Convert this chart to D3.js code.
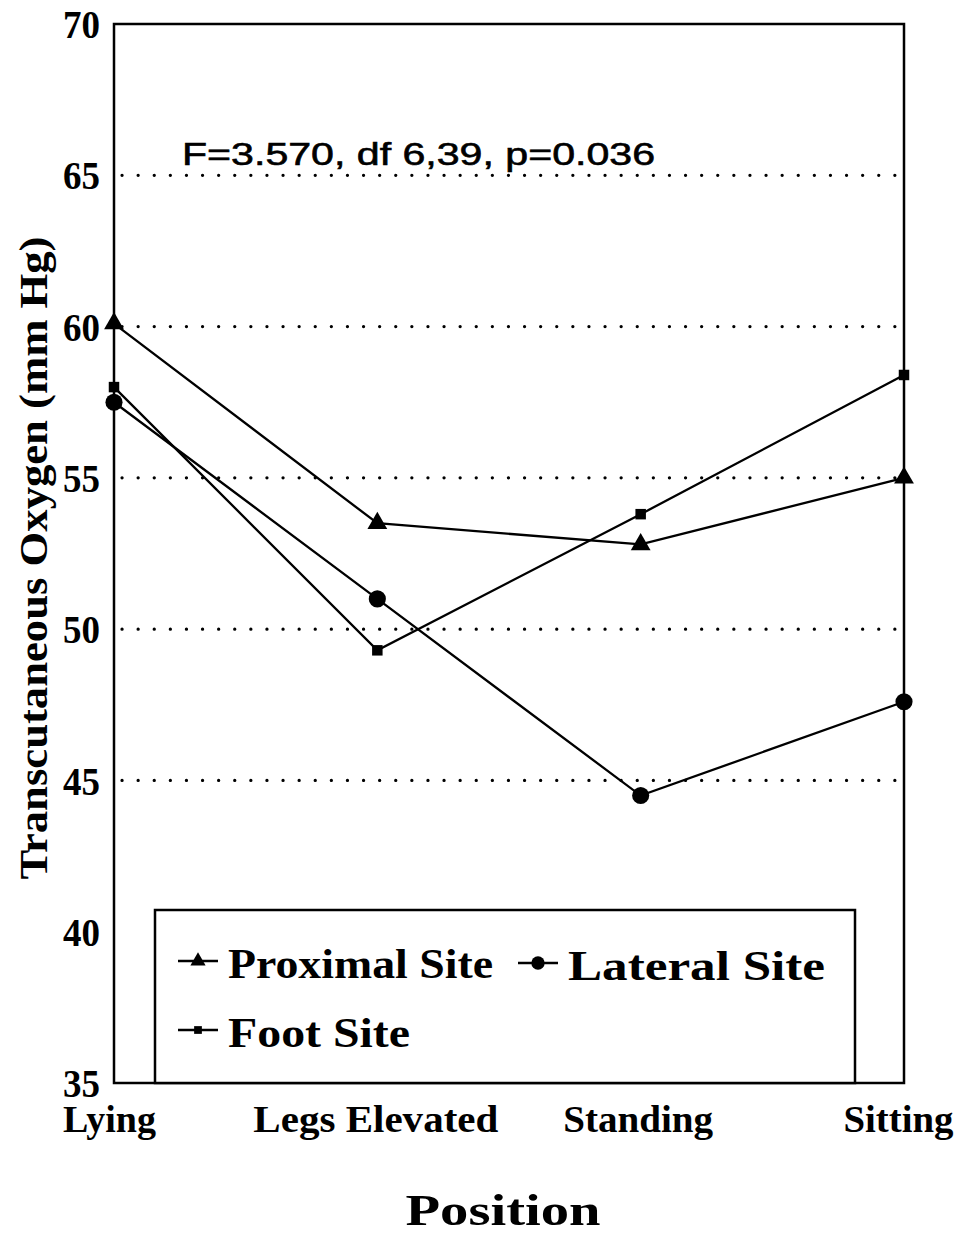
<!DOCTYPE html>
<html>
<head>
<meta charset="utf-8">
<script src="https://cdn.jsdelivr.net/npm/d3@7"></script>
<style>
  html, body { margin: 0; padding: 0; background: #fff; }
  svg { display: block; }
  .serif { font-family: "Liberation Serif", "Times New Roman", serif; font-weight: bold; fill: #000; }
  .sans { font-family: "Liberation Sans", Arial, sans-serif; fill: #000; }
</style>
</head>
<body>
<svg id="chart" width="960" height="1234"></svg>
<script>
// Positions along the x axis
const positions = ["Lying", "Legs Elevated", "Standing", "Sitting"];

// Mean transcutaneous oxygen (mm Hg) per site
const proximal = [60.1, 53.5, 52.8, 55.0];
const lateral  = [57.5, 51.0, 44.5, 47.6];
const foot     = [58.0, 49.3, 53.8, 58.4];

const yTicks = [35, 40, 45, 50, 55, 60, 65, 70];
const gridValues = [45, 50, 55, 60, 65];

const seriesNames = ["Proximal Site", "Lateral Site", "Foot Site"];
const statText = "F=3.570, df 6,39, p=0.036";

const svg = d3.select("#chart");
const plot = { left: 114, right: 904, top: 24, bottom: 1083 };

const x = d3.scalePoint().domain(positions).range([plot.left, plot.right]).padding(0);
const y = d3.scaleLinear().domain([35, 70]).range([plot.bottom, plot.top]);

// Dotted reference lines
svg.append("g").selectAll("line").data(gridValues).join("line")
  .attr("x1", plot.left + 8).attr("x2", plot.right - 6)
  .attr("y1", d => y(d)).attr("y2", d => y(d))
  .attr("stroke", "#000").attr("stroke-width", 3.2)
  .attr("stroke-linecap", "round")
  .attr("stroke-dasharray", "0.1 16");

// Frame
svg.append("rect")
  .attr("x", plot.left).attr("y", plot.top)
  .attr("width", plot.right - plot.left).attr("height", plot.bottom - plot.top)
  .attr("fill", "none").attr("stroke", "#000").attr("stroke-width", 2.5);

// Y axis tick labels
const yAxis = d3.axisLeft(y).tickValues(yTicks).tickSize(0).tickPadding(14);
const gy = svg.append("g").attr("transform", `translate(${plot.left},0)`).call(yAxis);
gy.select(".domain").remove();
gy.selectAll("text")
  .attr("class", "serif")
  .style("font-size", "40px")
  .attr("dy", "0.34em")
  .attr("textLength", 37)
  .attr("lengthAdjust", "spacingAndGlyphs");

// X axis category labels
const xLabelWidths = [93, 245, 150, 110];
const xLabelShift = [-5, -2, -3, -6];
const xAxis = d3.axisBottom(x).tickSize(0).tickPadding(0);
const gx = svg.append("g").attr("transform", `translate(0,${plot.bottom})`).call(xAxis);
gx.select(".domain").remove();
gx.selectAll("text")
  .attr("class", "serif")
  .style("font-size", "37px")
  .attr("dy", null)
  .attr("y", 49)
  .attr("dx", (d, i) => xLabelShift[i])
  .attr("textLength", (d, i) => xLabelWidths[i])
  .attr("lengthAdjust", "spacingAndGlyphs");

// Axis titles
svg.append("text").attr("class", "serif")
  .attr("x", 503).attr("y", 1225)
  .attr("text-anchor", "middle")
  .style("font-size", "45px")
  .attr("textLength", 195)
  .attr("lengthAdjust", "spacingAndGlyphs")
  .text("Position");

svg.append("text").attr("class", "serif")
  .attr("transform", "translate(47,558) rotate(-90)")
  .attr("text-anchor", "middle")
  .style("font-size", "41px")
  .attr("textLength", 643)
  .attr("lengthAdjust", "spacingAndGlyphs")
  .text("Transcutaneous Oxygen (mm Hg)");

// Statistics annotation
svg.append("text").attr("class", "sans")
  .attr("x", 182).attr("y", 165)
  .style("font-size", "31px")
  .attr("stroke", "#000").attr("stroke-width", 0.6)
  .attr("textLength", 473)
  .attr("lengthAdjust", "spacingAndGlyphs")
  .text(statText);

// Legend box
const legend = svg.append("g");
legend.append("rect")
  .attr("x", 155).attr("y", 910)
  .attr("width", 700).attr("height", plot.bottom - 910)
  .attr("fill", "#fff").attr("stroke", "#000").attr("stroke-width", 2.5);

// Marker drawing
const symbolFor = {
  "Proximal Site": d3.symbol().type(d3.symbolTriangle).size(170),
  "Lateral Site": d3.symbol().type(d3.symbolCircle).size(230),
  "Foot Site": d3.symbol().type(d3.symbolSquare).size(110)
};

const data = [proximal, lateral, foot];
const line = d3.line().x((d, i) => x(positions[i])).y(d => y(d));

data.forEach((vals, k) => {
  const name = seriesNames[k];
  svg.append("path")
    .datum(vals)
    .attr("d", line)
    .attr("fill", "none").attr("stroke", "#000").attr("stroke-width", 2.3);
  svg.append("g").selectAll("path").data(vals).join("path")
    .attr("transform", (d, i) => `translate(${x(positions[i])},${y(d)})`)
    .attr("d", symbolFor[name]())
    .attr("fill", "#000");
});

// Legend entries
const legendItems = [
  { name: "Proximal Site", lx: 178, ly: 961, tw: 265 },
  { name: "Lateral Site", lx: 518, ly: 963, tw: 257 },
  { name: "Foot Site", lx: 178, ly: 1030, tw: 182 }
];
const legendSymbol = {
  "Proximal Site": d3.symbol().type(d3.symbolTriangle).size(100),
  "Lateral Site": d3.symbol().type(d3.symbolCircle).size(140),
  "Foot Site": d3.symbol().type(d3.symbolSquare).size(60)
};
legendItems.forEach(it => {
  legend.append("line")
    .attr("x1", it.lx).attr("x2", it.lx + 40)
    .attr("y1", it.ly).attr("y2", it.ly)
    .attr("stroke", "#000").attr("stroke-width", 2.3);
  legend.append("path")
    .attr("transform", `translate(${it.lx + 20},${it.ly})`)
    .attr("d", legendSymbol[it.name]())
    .attr("fill", "#000");
  legend.append("text").attr("class", "serif")
    .attr("x", it.lx + 50).attr("y", it.ly + 17)
    .style("font-size", "42px")
    .attr("textLength", it.tw)
    .attr("lengthAdjust", "spacingAndGlyphs")
    .text(it.name);
});
</script>
</body>
</html>
